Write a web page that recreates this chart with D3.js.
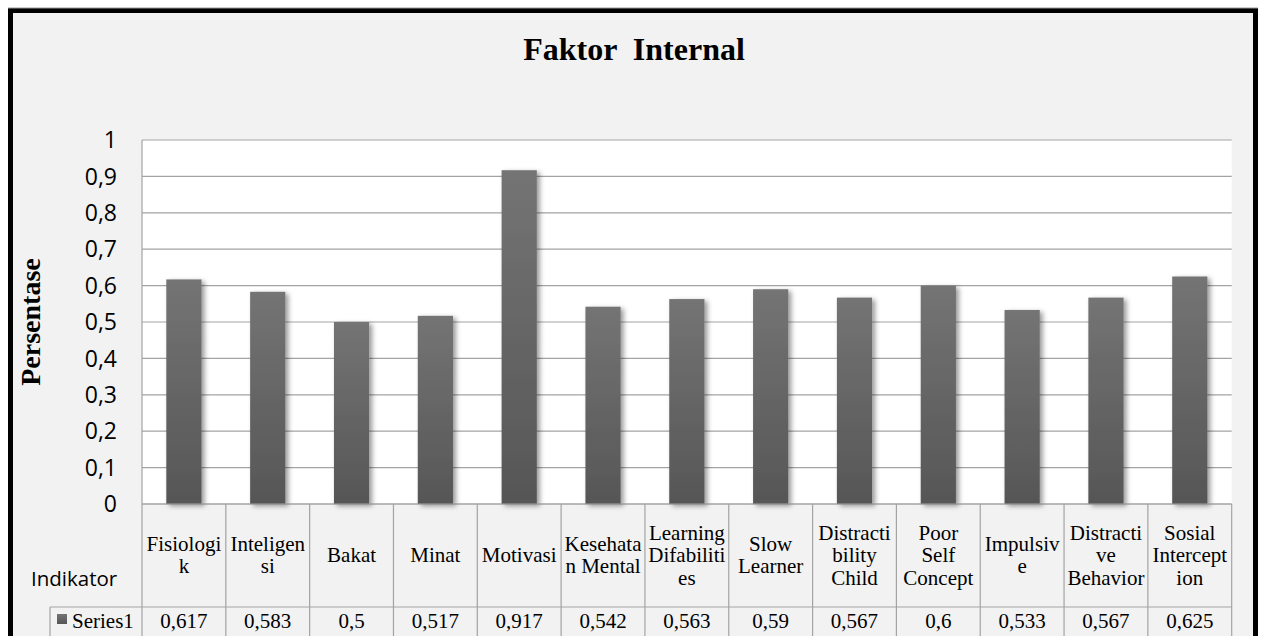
<!DOCTYPE html>
<html>
<head>
<meta charset="utf-8">
<script src="https://cdn.jsdelivr.net/npm/d3@7"></script>
<style>
  html, body { margin: 0; padding: 0; background: #ffffff; }
  svg { display: block; }
</style>
</head>
<body>
<svg id="faktorChart" width="1261" height="636"></svg>
<script>
const categories = ["Fisiologik", "Inteligensi", "Bakat", "Minat", "Motivasi", "Kesehatan Mental",
    "Learning Difabilities", "Slow Learner", "Distractibility Child", "Poor Self Concept",
    "Impulsive", "Distractive Behavior", "Sosial Interception"];
// wrapped the way the table shows them
const categoryLines = [["Fisiologi", "k"], ["Inteligen", "si"], ["Bakat"], ["Minat"], ["Motivasi"],
    ["Kesehata", "n Mental"], ["Learning", "Difabiliti", "es"], ["Slow", "Learner"],
    ["Distracti", "bility", "Child"], ["Poor", "Self", "Concept"], ["Impulsiv", "e"],
    ["Distracti", "ve", "Behavior"], ["Sosial", "Intercept", "ion"]];
const series1 = [0.617, 0.583, 0.5, 0.517, 0.917, 0.542, 0.563, 0.59, 0.567, 0.6, 0.533, 0.567, 0.625];
const valueLabels = ["0,617", "0,583", "0,5", "0,517", "0,917", "0,542", "0,563", "0,59", "0,567", "0,6", "0,533", "0,567", "0,625"];
const yTicks = [0, 0.1, 0.2, 0.3, 0.4, 0.5, 0.6, 0.7, 0.8, 0.9, 1];

const svg = d3.select("#faktorChart");
const width = 1261, height = 636;
const plot = { left: 142, right: 1231.7, top: 140, bottom: 504 };
const tableRow = 607;
const legendLeft = 50;
const gridColor = "#a3a3a3";
const serif = "'Liberation Serif', 'Times New Roman', serif";
const sans = "'Open Sans', 'DejaVu Sans', sans-serif";

const defs = svg.append("defs");
const grad = defs.append("linearGradient")
    .attr("id", "barFill").attr("x1", 0).attr("y1", 0).attr("x2", 0).attr("y2", 1);
grad.append("stop").attr("offset", "0%").attr("stop-color", "#747474");
grad.append("stop").attr("offset", "100%").attr("stop-color", "#565656");
const shadow = defs.append("filter").attr("id", "barShadow")
    .attr("x", "-30%").attr("y", "-10%").attr("width", "170%").attr("height", "130%");
shadow.append("feDropShadow")
    .attr("dx", 3).attr("dy", 2).attr("stdDeviation", 2.5)
    .attr("flood-color", "#000").attr("flood-opacity", 0.4);

// outer frame
svg.append("rect")
    .attr("x", 10.5).attr("y", 10.5)
    .attr("width", 1245).attr("height", 640)
    .attr("fill", "#f2f2f2")
    .attr("stroke", "#000").attr("stroke-width", 5);
svg.append("line")
    .attr("x1", 8).attr("x2", 1258).attr("y1", 8).attr("y2", 8)
    .attr("stroke", "#9a9a9a").attr("stroke-width", 1);

const mapX = d3.scaleBand()
    .domain(categories)
    .range([plot.left, plot.right])
    .padding(0);

const mapY = d3.scaleLinear()
    .domain([0, 1])
    .range([plot.bottom, plot.top]);

svg.append("rect")
    .attr("x", plot.left).attr("y", plot.top)
    .attr("width", plot.right - plot.left).attr("height", plot.bottom - plot.top)
    .attr("fill", "#ffffff");

// gridlines
svg.append("g")
    .selectAll("line")
    .data(yTicks)
    .enter()
    .append("line")
    .attr("x1", plot.left).attr("x2", plot.right)
    .attr("y1", (d) => mapY(d)).attr("y2", (d) => mapY(d))
    .attr("stroke", gridColor).attr("stroke-width", 1.2);

// y ticks
svg.append("g")
    .selectAll("text")
    .data(yTicks)
    .enter()
    .append("text")
    .attr("x", 117)
    .attr("y", (d) => mapY(d))
    .attr("dy", "0.36em")
    .attr("text-anchor", "end")
    .attr("font-family", sans)
    .attr("font-size", 23)
    .attr("fill", "#000")
    .text((d) => String(d).replace(".", ","));

// bars
const barWidth = mapX.bandwidth() * 0.42;
svg.append("g")
    .selectAll("rect")
    .data(series1)
    .enter()
    .append("rect")
    .attr("x", (d, i) => mapX(categories[i]) + (mapX.bandwidth() - barWidth) / 2)
    .attr("y", (d) => mapY(d))
    .attr("width", barWidth)
    .attr("height", (d) => mapY(0) - mapY(d))
    .attr("fill", "url(#barFill)")
    .attr("filter", "url(#barShadow)");

// table lines
const table = svg.append("g").attr("stroke", gridColor).attr("stroke-width", 1.2);
table.append("line")
    .attr("x1", plot.left).attr("x2", plot.right)
    .attr("y1", plot.bottom).attr("y2", plot.bottom);
table.append("line")
    .attr("x1", plot.left).attr("x2", plot.left)
    .attr("y1", plot.top).attr("y2", height + 5);
table.append("line")
    .attr("x1", legendLeft).attr("x2", plot.right)
    .attr("y1", tableRow).attr("y2", tableRow);
table.append("line")
    .attr("x1", legendLeft).attr("x2", legendLeft)
    .attr("y1", tableRow).attr("y2", height + 5);
table.selectAll(".col")
    .data(categories)
    .enter()
    .append("line")
    .attr("class", "col")
    .attr("x1", (d) => mapX(d) + mapX.bandwidth())
    .attr("x2", (d) => mapX(d) + mapX.bandwidth())
    .attr("y1", plot.bottom).attr("y2", height + 5);

// category labels
const lineH = 22.5;
const catGroups = svg.append("g")
    .selectAll("text")
    .data(categoryLines)
    .enter()
    .append("text")
    .attr("text-anchor", "middle")
    .attr("font-family", serif)
    .attr("font-size", 21)
    .attr("fill", "#000");
catGroups.each(function (lines, i) {
    const cx = mapX(categories[i]) + mapX.bandwidth() / 2;
    const firstBase = 562 - ((lines.length - 1) * lineH) / 2;
    d3.select(this).selectAll("tspan")
        .data(lines)
        .enter()
        .append("tspan")
        .attr("x", cx)
        .attr("y", (d, j) => firstBase + j * lineH)
        .text((d) => d);
});

// values row
svg.append("g")
    .selectAll("text")
    .data(valueLabels)
    .enter()
    .append("text")
    .attr("x", (d, i) => mapX(categories[i]) + mapX.bandwidth() / 2)
    .attr("y", 628)
    .attr("text-anchor", "middle")
    .attr("font-family", serif)
    .attr("font-size", 21)
    .attr("fill", "#000")
    .text((d) => d);

// legend key
svg.append("rect")
    .attr("x", 57).attr("y", 614)
    .attr("width", 10).attr("height", 10)
    .attr("fill", "url(#barFill)");
svg.append("text")
    .attr("x", 72).attr("y", 628)
    .attr("font-family", serif)
    .attr("font-size", 21)
    .attr("fill", "#000")
    .text("Series1");

// axis label texts
svg.append("text")
    .attr("x", 31).attr("y", 586)
    .attr("font-family", sans)
    .attr("font-size", 20.5)
    .attr("fill", "#000")
    .text("Indikator");

svg.append("text")
    .attr("transform", `translate(40, ${(plot.top + plot.bottom) / 2}) rotate(-90)`)
    .attr("text-anchor", "middle")
    .attr("font-family", serif)
    .attr("font-weight", "bold")
    .attr("font-size", 28)
    .attr("fill", "#000")
    .text("Persentase");

svg.append("text")
    .attr("x", 634)
    .attr("y", 60)
    .attr("text-anchor", "middle")
    .attr("font-family", serif)
    .attr("font-weight", "bold")
    .attr("font-size", 32)
    .attr("fill", "#000")
    .attr("xml:space", "preserve")
    .style("white-space", "pre")
    .text("Faktor  Internal");
</script>
</body>
</html>
